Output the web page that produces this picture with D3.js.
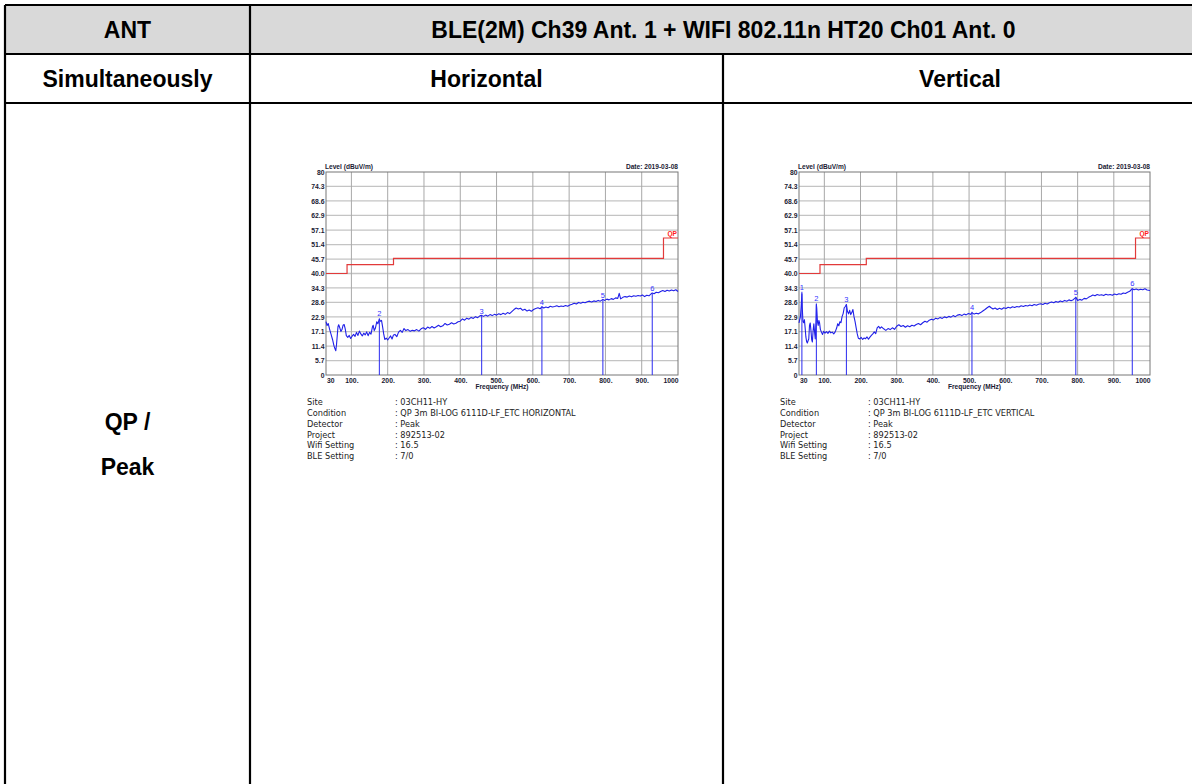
<!DOCTYPE html>
<html>
<head>
<meta charset="utf-8">
<script src="https://cdn.jsdelivr.net/npm/d3@7"></script>
<style>
  html, body { margin: 0; padding: 0; background: #fff; overflow: hidden; }
  svg { display: block; }
  .cell-text { font-family: Arial, "Liberation Sans", sans-serif; font-weight: bold; font-size: 23px; fill: #000; }
  .axis text { font-family: Arial, "Liberation Sans", sans-serif; font-weight: bold; font-size: 6.8px; fill: #1a1a33; }
  .axis path, .axis line { display: none; }
  .chart-title { font-family: Arial, "Liberation Sans", sans-serif; font-weight: bold; font-size: 6.6px; fill: #1a1a33; }
  .marker-label { font-family: Arial, "Liberation Sans", sans-serif; font-size: 7.5px; fill: #3333ff; }
  .info { font-family: "DejaVu Sans", Verdana, sans-serif; font-size: 8.2px; fill: #222; }
</style>
</head>
<body>
<svg id="page" width="1192" height="784"></svg>
<script>
// table texts
const headerRow1 = ["ANT", "BLE(2M) Ch39 Ant. 1 + WIFI 802.11n HT20 Ch01 Ant. 0"];
const headerRow2 = ["Simultaneously", "Horizontal", "Vertical"];
const rowLabel = ["QP /", "Peak"];

// axes of the two plots
const yTickLabels = ["0", "5.7", "11.4", "17.1", "22.9", "28.6", "34.3", "40.0", "45.7", "51.4", "57.1", "62.9", "68.6", "74.3", "80"];
const xTickValues = [30, 100, 200, 300, 400, 500, 600, 700, 800, 900, 1000];
const xTickLabels = ["30", "100.", "200.", "300.", "400.", "500.", "600.", "700.", "800.", "900.", "1000"];
const chartDate = "2019-03-08";

// QP limit (step after each frequency)
const limitQP = [[30, 40.0], [88, 43.5], [216, 46.0], [960, 54.0], [1000, 54.0]];

// horizontal trace (MHz, dBuV/m)
const traceH = [
  [30, 21.0], [33, 19.5], [36, 20.3], [40, 18.0], [44, 16.0], [48, 14.0], [52, 11.5], [55, 10.2], [57, 9.6], [59, 12.0],
  [61, 15.5], [63, 19.0], [65, 19.8], [68, 18.6], [71, 17.2], [74, 17.9], [77, 19.6], [80, 19.9], [83, 18.2], [86, 15.5],
  [90, 14.8], [94, 15.6], [98, 14.4], [102, 15.3], [106, 16.0], [110, 15.2], [114, 16.8], [118, 15.6], [122, 17.3], [126, 16.2],
  [130, 15.4], [134, 16.5], [138, 15.8], [142, 17.0], [146, 15.5], [150, 16.8], [154, 16.1], [158, 19.0], [160, 19.6], [163, 17.5],
  [166, 18.4], [170, 21.0], [173, 20.2], [177, 22.0], [180, 21.2], [183, 21.5], [186, 19.0], [189, 16.2], [192, 14.0], [196, 14.5],
  [200, 13.8], [204, 14.6], [208, 15.4], [212, 14.2], [216, 15.8], [220, 16.0], [225, 15.1], [230, 16.9], [235, 17.6], [240, 16.8],
  [245, 18.3], [250, 17.5], [256, 17.9], [262, 17.2], [268, 17.6], [274, 17.4], [280, 17.9], [286, 17.3], [292, 18.2], [298, 18.6],
  [304, 18.0], [310, 18.9], [316, 18.4], [322, 19.1], [328, 18.5], [334, 19.0], [340, 19.6], [346, 19.0], [352, 19.4], [358, 20.3],
  [364, 19.7], [370, 20.0], [376, 20.6], [382, 20.1], [388, 20.4], [394, 21.0], [400, 21.2], [406, 22.1], [412, 21.6], [418, 22.4],
  [424, 22.0], [430, 22.7], [436, 22.3], [442, 23.0], [448, 22.6], [454, 23.3], [459, 23.5], [464, 23.1], [470, 23.6], [476, 23.2],
  [482, 23.8], [488, 23.4], [494, 23.9], [500, 23.6], [506, 24.1], [512, 23.8], [518, 24.3], [524, 23.9], [530, 24.6], [536, 24.2],
  [542, 25.0], [548, 25.8], [554, 26.4], [560, 26.0], [566, 26.3], [572, 25.5], [578, 25.9], [584, 25.2], [590, 25.6], [596, 25.1],
  [602, 25.8], [608, 26.2], [614, 26.5], [620, 26.1], [625, 26.9], [630, 26.4], [636, 26.8], [642, 26.5], [648, 27.1], [654, 26.8],
  [660, 27.0], [666, 27.3], [672, 26.9], [678, 27.2], [684, 27.0], [690, 27.4], [696, 27.1], [702, 27.6], [708, 27.9], [714, 28.3],
  [720, 28.0], [726, 28.6], [732, 28.3], [738, 28.7], [744, 28.5], [750, 28.9], [756, 29.1], [762, 28.8], [768, 29.2], [774, 29.0],
  [780, 29.4], [786, 29.1], [793, 29.8], [798, 29.4], [804, 29.9], [810, 29.6], [816, 30.1], [822, 29.8], [828, 30.4], [834, 30.2],
  [838, 32.2], [842, 30.0], [848, 30.6], [854, 30.9], [860, 30.7], [866, 31.1], [872, 30.8], [878, 31.2], [884, 31.0], [890, 31.3],
  [896, 31.1], [902, 31.5], [908, 30.9], [914, 31.4], [920, 31.2], [926, 32.0], [929, 32.3], [934, 32.0], [940, 32.6], [946, 32.4],
  [952, 32.9], [958, 33.3], [964, 32.9], [970, 33.4], [976, 33.1], [982, 33.5], [988, 33.2], [994, 33.6], [1000, 32.9]
];
const markersH = [
  { n: 2, f: 177, v: 22.3 }, { n: 3, f: 459, v: 23.4 }, { n: 4, f: 625, v: 26.9 },
  { n: 5, f: 793, v: 29.7 }, { n: 6, f: 929, v: 32.2 }
];

// vertical trace (MHz, dBuV/m)
const traceV = [
  [30, 20.5], [32, 21.8], [34, 23.0], [36, 27.0], [38, 32.0], [39, 26.5], [41, 21.0], [43, 20.6], [45, 21.8], [47, 18.5],
  [49, 15.0], [51, 13.2], [53, 12.6], [55, 13.5], [57, 14.2], [59, 19.5], [61, 20.5], [63, 17.6], [65, 14.0], [67, 13.0],
  [69, 17.5], [71, 20.2], [73, 17.0], [75, 14.2], [77, 21.5], [78, 27.8], [79, 26.4], [81, 21.0], [83, 19.5], [85, 21.5],
  [87, 20.4], [89, 18.0], [92, 16.9], [95, 16.0], [98, 17.2], [102, 16.5], [106, 17.1], [110, 16.4], [114, 17.3], [118, 16.6],
  [122, 16.9], [126, 16.2], [130, 17.0], [134, 18.5], [137, 20.2], [140, 19.4], [143, 21.0], [146, 20.6], [149, 23.0], [152, 24.2],
  [155, 26.5], [158, 27.0], [161, 27.8], [164, 25.0], [167, 24.1], [170, 25.5], [173, 23.8], [176, 24.6], [179, 25.8], [182, 23.0],
  [185, 21.0], [188, 18.6], [191, 16.2], [194, 14.5], [198, 14.2], [202, 14.8], [206, 14.0], [210, 14.6], [214, 14.3], [218, 15.0],
  [222, 14.1], [226, 14.9], [230, 15.6], [234, 16.2], [238, 17.0], [242, 16.3], [246, 18.6], [250, 19.2], [254, 18.4], [258, 19.0],
  [264, 18.2], [270, 17.6], [276, 18.3], [282, 17.9], [288, 18.6], [294, 18.0], [300, 19.2], [306, 19.8], [312, 19.1], [318, 19.5],
  [324, 18.8], [330, 19.4], [336, 19.0], [342, 19.6], [348, 19.3], [354, 19.9], [360, 20.3], [366, 19.8], [372, 20.6], [378, 21.2],
  [384, 20.8], [390, 21.6], [396, 22.0], [402, 21.7], [408, 22.4], [414, 22.1], [420, 22.7], [426, 22.3], [432, 22.9], [438, 22.6],
  [444, 23.1], [450, 22.8], [456, 23.4], [462, 23.0], [468, 23.6], [474, 23.8], [480, 23.4], [486, 24.0], [492, 23.7], [498, 24.2],
  [504, 23.9], [508, 24.5], [514, 24.0], [520, 24.3], [526, 24.1], [532, 24.6], [538, 25.2], [544, 25.8], [550, 26.5], [556, 27.1],
  [560, 26.6], [566, 26.0], [572, 26.4], [578, 25.8], [584, 26.3], [590, 25.9], [596, 26.5], [602, 26.2], [608, 26.7], [614, 26.4],
  [620, 26.9], [626, 26.6], [632, 27.0], [638, 26.8], [644, 27.3], [650, 27.0], [656, 27.4], [662, 27.2], [668, 27.6], [674, 27.3],
  [680, 27.8], [686, 27.5], [692, 27.9], [698, 28.1], [704, 27.8], [710, 28.3], [716, 28.0], [722, 28.5], [728, 28.8], [734, 28.5],
  [740, 29.0], [746, 28.7], [752, 29.2], [758, 28.9], [764, 29.4], [770, 29.1], [776, 29.6], [782, 29.3], [788, 29.7], [795, 30.6],
  [800, 29.4], [806, 29.8], [812, 29.5], [818, 30.2], [824, 30.0], [830, 30.6], [836, 31.0], [842, 31.5], [848, 31.2], [854, 31.7],
  [860, 31.4], [866, 31.6], [872, 31.3], [878, 31.8], [884, 31.5], [890, 31.7], [896, 31.4], [902, 31.9], [908, 31.6], [914, 32.0],
  [920, 31.8], [926, 32.3], [932, 32.1], [938, 32.6], [944, 33.0], [951, 34.0], [956, 33.6], [962, 33.9], [968, 33.5], [974, 33.8],
  [980, 33.6], [986, 34.0], [992, 33.5], [1000, 33.3]
];
const markersV = [
  { n: 1, f: 38, v: 32.8 }, { n: 2, f: 78, v: 28.2 }, { n: 3, f: 161, v: 27.8 },
  { n: 4, f: 508, v: 24.9 }, { n: 5, f: 795, v: 30.8 }, { n: 6, f: 951, v: 34.1 }
];

// test info printed under each plot
const infoLabels = ["Site", "Condition", "Detector", "Project", "Wifi Setting", "BLE Setting"];
const infoH = ["03CH11-HY", "QP 3m BI-LOG 6111D-LF_ETC HORIZONTAL", "Peak", "892513-02", "16.5", "7/0"];
const infoV = ["03CH11-HY", "QP 3m BI-LOG 6111D-LF_ETC VERTICAL", "Peak", "892513-02", "16.5", "7/0"];

const svg = d3.select("#page");

// ---- table ----
const colX = [5, 250, 723, 1197];
const rowY = [5, 54, 103, 800];

svg.append("rect")
  .attr("x", colX[0]).attr("y", rowY[0])
  .attr("width", colX[3] - colX[0]).attr("height", rowY[1] - rowY[0])
  .attr("fill", "#d9d9d9");

const grid = svg.append("g").attr("stroke", "#000").attr("stroke-width", 2.2);
rowY.slice(0, 3).forEach(y => {
  grid.append("line").attr("x1", colX[0]).attr("x2", colX[3]).attr("y1", y).attr("y2", y);
});
grid.append("line").attr("x1", colX[0]).attr("x2", colX[0]).attr("y1", rowY[0]).attr("y2", rowY[3]);
grid.append("line").attr("x1", colX[1]).attr("x2", colX[1]).attr("y1", rowY[0]).attr("y2", rowY[3]);
grid.append("line").attr("x1", colX[2]).attr("x2", colX[2]).attr("y1", rowY[1]).attr("y2", rowY[3]);

const cellText = (x, y, t) => svg.append("text")
  .attr("class", "cell-text").attr("x", x).attr("y", y)
  .attr("text-anchor", "middle").text(t);

cellText((colX[0] + colX[1]) / 2, 38, headerRow1[0]);
cellText((colX[1] + colX[3]) / 2, 38, headerRow1[1]);
headerRow2.forEach((t, i) => cellText((colX[i] + colX[i + 1]) / 2, 87, t));
cellText((colX[0] + colX[1]) / 2, 430, rowLabel[0]);
cellText((colX[0] + colX[1]) / 2, 475, rowLabel[1]);

// ---- one EMI plot ----
function drawChart(left, top, width, height, trace, markers, info) {
  const g = svg.append("g");
  const x = d3.scaleLinear().domain([30, 1000]).range([left, left + width]);
  const y = d3.scaleLinear().domain([0, 80]).range([top + height, top]);
  const yTicks = yTickLabels.map(Number);

  // grid
  g.append("g").selectAll("line").data(yTicks.slice(1, -1)).join("line")
    .attr("x1", left).attr("x2", left + width)
    .attr("y1", d => y(d)).attr("y2", d => y(d))
    .attr("stroke", "#c4c4c4").attr("stroke-width", 1.3);
  g.append("g").selectAll("line").data(xTickValues.slice(1, -1)).join("line")
    .attr("x1", d => x(d)).attr("x2", d => x(d))
    .attr("y1", top).attr("y2", top + height)
    .attr("stroke", "#a8a8a8").attr("stroke-width", 1);
  g.append("rect")
    .attr("x", left).attr("y", top).attr("width", width).attr("height", height)
    .attr("fill", "none").attr("stroke", "#777").attr("stroke-width", 1);

  // axes
  g.append("g").attr("class", "axis")
    .attr("transform", `translate(${left},0)`)
    .call(d3.axisLeft(y).tickValues(yTicks).tickSize(0).tickPadding(1.5)
      .tickFormat((d, i) => yTickLabels[i]));
  const xAxis = g.append("g").attr("class", "axis")
    .attr("transform", `translate(0,${top + height})`)
    .call(d3.axisBottom(x).tickValues(xTickValues).tickSize(0).tickPadding(3)
      .tickFormat((d, i) => xTickLabels[i]));
  xAxis.selectAll(".tick text")
    .attr("text-anchor", (d, i) => i === 0 ? "start" : (i === xTickValues.length - 1 ? "end" : "middle"))
    .attr("dx", (d, i) => i === 0 ? 0.5 : 0);

  // titles
  g.append("text").attr("class", "chart-title")
    .attr("x", left - 1).attr("y", top - 3).text("Level (dBuV/m)");
  g.append("text").attr("class", "chart-title")
    .attr("x", left + width).attr("y", top - 3).attr("text-anchor", "end")
    .text("Date: " + chartDate);
  g.append("text").attr("class", "chart-title")
    .attr("x", left + width / 2).attr("y", top + height + 14).attr("text-anchor", "middle")
    .text("Frequency (MHz)");

  // limit line
  g.append("path").datum(limitQP)
    .attr("d", d3.line().x(d => x(d[0])).y(d => y(d[1])).curve(d3.curveStepAfter))
    .attr("fill", "none").attr("stroke", "#e23a3a").attr("stroke-width", 1.2);
  g.append("text").attr("class", "chart-title")
    .attr("x", left + width - 1).attr("y", y(limitQP[limitQP.length - 1][1]) - 2)
    .attr("text-anchor", "end").style("fill", "#ff2020")
    .text("QP");

  // trace
  g.append("path").datum(trace)
    .attr("d", d3.line().x(d => x(d[0])).y(d => y(d[1])))
    .attr("fill", "none").attr("stroke", "#2020e8").attr("stroke-width", 1.1)
    .attr("stroke-linejoin", "round");

  // markers
  g.append("g").selectAll("line").data(markers).join("line")
    .attr("x1", d => x(d.f)).attr("x2", d => x(d.f))
    .attr("y1", y(0)).attr("y2", d => y(d.v))
    .attr("stroke", "#2a2af0").attr("stroke-width", 1);
  g.append("g").selectAll("text").data(markers).join("text")
    .attr("class", "marker-label")
    .attr("x", d => x(d.f)).attr("y", d => y(d.v) - 2)
    .attr("text-anchor", "middle").text(d => d.n);

  // info block
  const info0 = top + height + 30;
  infoLabels.forEach((lab, i) => {
    g.append("text").attr("class", "info")
      .attr("x", left - 19).attr("y", info0 + i * 10.85).text(lab);
    g.append("text").attr("class", "info")
      .attr("x", left + 69).attr("y", info0 + i * 10.85).text(": " + info[i]);
  });
}

drawChart(326, 172, 352, 203, traceH, markersH, infoH);
drawChart(799, 172, 351, 203, traceV, markersV, infoV);
</script>
</body>
</html>
